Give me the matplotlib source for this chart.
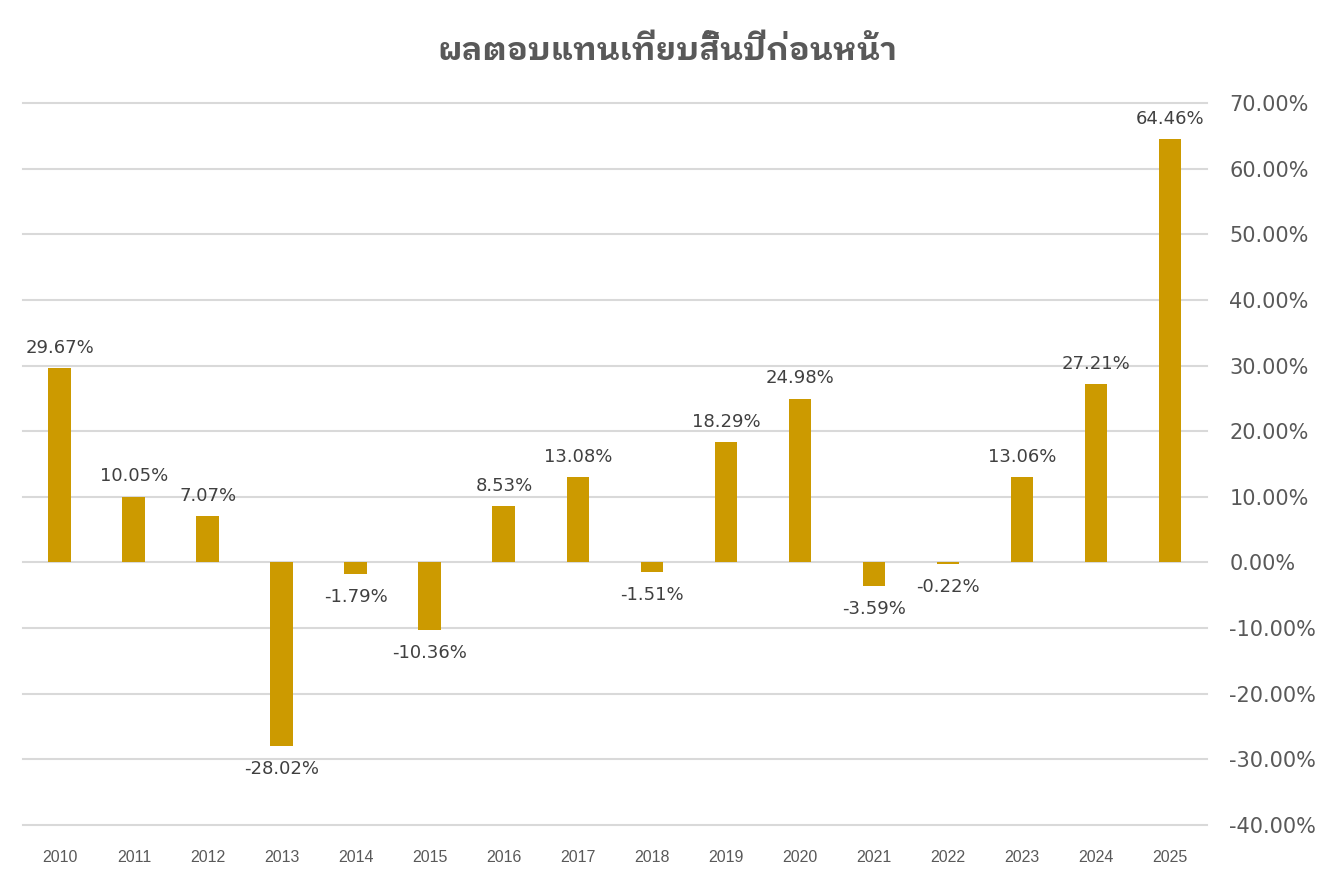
import matplotlib
matplotlib.use("Agg")
import matplotlib.pyplot as plt
import numpy as np

# ข้อมูลผลตอบแทนรายปี (%)
years = ["2010", "2011", "2012", "2013", "2014", "2015", "2016", "2017",
         "2018", "2019", "2020", "2021", "2022", "2023", "2024", "2025"]
returns = [29.67, 10.05, 7.07, -28.02, -1.79, -10.36, 8.53, 13.08,
           -1.51, 18.29, 24.98, -3.59, -0.22, 13.06, 27.21, 64.46]
yticks = [-40, -30, -20, -10, 0, 10, 20, 30, 40, 50, 60, 70]
title = "ผลตอบแทนเทียบสิ้นปีก่อนหน้า"

bar_color = "#CC9A00"
text_color = "#595959"
num_font = ["DejaVu Sans"]

fig = plt.figure(figsize=(13.34, 8.89), dpi=100)
ax = fig.add_axes([0.0172, 0.072, 0.8876, 0.8121])

x = np.arange(len(years))
bars = ax.bar(x, returns, width=0.31, color=bar_color, zorder=3)

ax.set_xlim(-0.5, len(years) - 0.5)
ax.set_ylim(-40, 70)
ax.set_yticks(yticks)
ax.set_yticklabels(["{:.2f}%".format(v) for v in yticks], family=num_font,
                   fontsize=15, color=text_color)
ax.yaxis.tick_right()
ax.tick_params(axis="y", length=0, pad=16)
ax.set_xticks(x)
ax.set_xticklabels(years, family=["Liberation Sans"], fontsize=11.5, color=text_color)
ax.tick_params(axis="x", length=0, pad=18)

ax.grid(axis="y", color="#d9d9d9", linewidth=1.5, zorder=0)
for line in ax.get_ygridlines():
    line.set_clip_on(False)
for s in ax.spines.values():
    s.set_visible(False)

for xi, v in zip(x, returns):
    if v >= 0:
        ax.annotate("{:.2f}%".format(v), (xi, v), xytext=(0, 8), textcoords="offset points",
                    ha="center", va="bottom", fontsize=13, color="#404040", family=num_font)
    else:
        ax.annotate("{:.2f}%".format(v), (xi, v), xytext=(0, -10), textcoords="offset points",
                    ha="center", va="top", fontsize=13, color="#404040", family=num_font)

fig.text(0.5, 0.943, title, ha="center", va="center", fontsize=23.3, weight="bold",
         color=text_color, family=["IBM Plex Sans Thai Looped", "DejaVu Sans"])

fig.savefig("out.png", dpi=100)
